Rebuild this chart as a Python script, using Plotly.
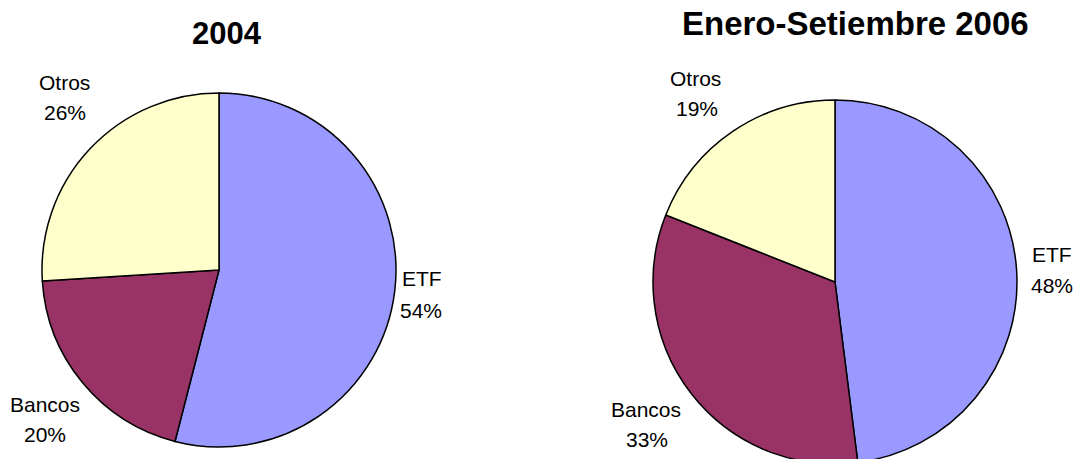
import plotly.graph_objects as go

W, H = 1076, 470  # page is cropped at 459 px

labels = ["ETF", "Bancos", "Otros"]
values_2004 = [54, 20, 26]
values_2006 = [48, 33, 19]
titles = ["2004", "Enero-Setiembre 2006"]
colors = ["#9999FF", "#993366", "#FFFFCC"]

def px_x(x):
    return x / W

def px_y(y):
    return 1 - y / H

def domain(cx, cy, r):
    return dict(x=[px_x(cx - r), px_x(cx + r)], y=[max(0, px_y(cy + r)), px_y(cy - r)])

fig = go.Figure()
pies = [
    (values_2004, domain(219, 270, 177)),
    (values_2006, domain(835, 282, 182)),
]
for vals, dom in pies:
    fig.add_trace(go.Pie(
        labels=labels, values=vals, sort=False, direction="clockwise", rotation=0,
        marker=dict(colors=colors, line=dict(color="black", width=1.5)),
        textinfo="none", hoverinfo="label+percent", domain=dom, showlegend=False,
    ))

annotations = []
title_pos = [(227, 33, 31), (855, 23, 33)]
for t, (x, y, fs) in zip(titles, title_pos):
    annotations.append(dict(text="<b>%s</b>" % t, x=px_x(x), y=px_y(y), xref="paper", yref="paper",
                            showarrow=False, xanchor="center", yanchor="middle",
                            font=dict(size=fs, color="black", family="Liberation Sans, Arial")))

label_pos = [
    {"ETF": ((422, 278), (421, 310)), "Bancos": ((45, 404), (45, 434)), "Otros": ((64, 83), (65, 112))},
    {"ETF": ((1052, 255), (1052, 285)), "Bancos": ((646, 409), (647, 439)), "Otros": ((695, 78), (697, 108))},
]
for vals, pos in zip([values_2004, values_2006], label_pos):
    tot = sum(vals)
    for lab, v in zip(labels, vals):
        (x1, y1), (x2, y2) = pos[lab]
        for txt, x, y in [(lab, x1, y1), ("%d%%" % round(100 * v / tot), x2, y2)]:
            annotations.append(dict(text=txt, x=px_x(x), y=px_y(y), xref="paper", yref="paper",
                                    showarrow=False, xanchor="center", yanchor="middle",
                                    font=dict(size=21, color="black", family="Liberation Sans, Arial")))

fig.update_layout(
    width=W, height=H, margin=dict(l=0, r=0, t=0, b=0),
    paper_bgcolor="white", plot_bgcolor="white",
    annotations=annotations,
)
fig.write_html("out.html", config={"displayModeBar": False},
               post_script="document.body.style.margin='0px';document.body.style.overflow='hidden';")
